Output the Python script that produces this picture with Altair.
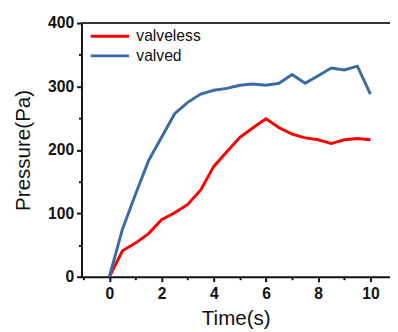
import altair as alt
import pandas as pd

time_s = [0, 0.5, 1, 1.5, 2, 2.5, 3, 3.5, 4, 4.5, 5, 5.5, 6, 6.5, 7, 7.5, 8, 8.5, 9, 9.5, 10]
valveless = [0, 41, 53, 68, 90, 101, 114, 137, 174, 197, 220, 235, 249, 235, 225, 219, 216, 210, 216, 218, 216]
valved = [0, 75, 130, 183, 220, 257, 275, 288, 294, 297, 302, 304, 302, 305, 319, 305, 317, 329, 326, 332, 288]
series_names = ["valveless", "valved"]
series_colors = ["#ff0000", "#3a6ba5"]
x_ticks = [-1, 0, 1, 2, 3, 4, 5, 6, 7, 8, 9, 10]
y_ticks = [0, 50, 100, 150, 200, 250, 300, 350, 400]

n = len(time_s)
df = pd.DataFrame({
    "t": time_s + time_s,
    "p": valveless + valved,
    "series": [series_names[0]] * n + [series_names[1]] * n,
})

W, H = 315, 259
FONT = "Liberation Sans"

lines = alt.Chart(df).mark_line(strokeWidth=3).encode(
    x=alt.X("t:Q",
            scale=alt.Scale(domain=[-1.07, 10.75], nice=False, zero=False),
            axis=alt.Axis(values=x_ticks,
                          labelExpr="datum.value % 2 == 0 ? datum.label : ''",
                          tickSize={"condition": {"test": "datum.value % 2 == 0", "value": 5}, "value": 3},
                          labelPadding=4,
                          title="Time(s)", titleBaseline="alphabetic", titleY=49,
                          grid=False)),
    y=alt.Y("p:Q",
            scale=alt.Scale(domain=[0, 400], nice=False),
            axis=alt.Axis(values=y_ticks,
                          labelExpr="datum.value % 100 == 0 ? datum.label : ''",
                          tickSize={"condition": {"test": "datum.value % 100 == 0", "value": 5}, "value": 3},
                          labelPadding=3,
                          title="Pressure(Pa)", titleX=-49, titleY=129.5,
                          grid=False)),
    color=alt.Color("series:N",
                    scale=alt.Scale(domain=series_names, range=series_colors),
                    legend=alt.Legend(title=None, orient="none", legendX=17, legendY=1.5,
                                      symbolType="M-1.86,0H1.86", symbolSize=441,
                                      symbolStrokeWidth=3, labelOffset=15,
                                      labelFontSize=16, labelFont=FONT, labelColor="#111",
                                      rowPadding=0, padding=0)),
)

border = alt.Chart(pd.DataFrame({"a": [0]})).mark_rule(color="#333333", strokeWidth=2).encode(
    y=alt.value(0), x=alt.value(0), x2=alt.value(W)
)

chart = alt.layer(border, lines).properties(
    width=W, height=H,
    padding={"left": 75, "top": 12, "right": 0, "bottom": 52},
    autosize=alt.AutoSizeParams(type="none"),
).configure_view(stroke=None).configure_axis(
    labelFont=FONT, labelFontSize=16, labelFontWeight="bold", labelColor="#111",
    titleFont=FONT, titleFontSize=21, titleFontWeight="normal", titleColor="#111",
    domainColor="#111", domainWidth=2, tickColor="#111", tickWidth=2,
)

chart.save("out.html", embed_options={"renderer": "svg", "actions": False})
